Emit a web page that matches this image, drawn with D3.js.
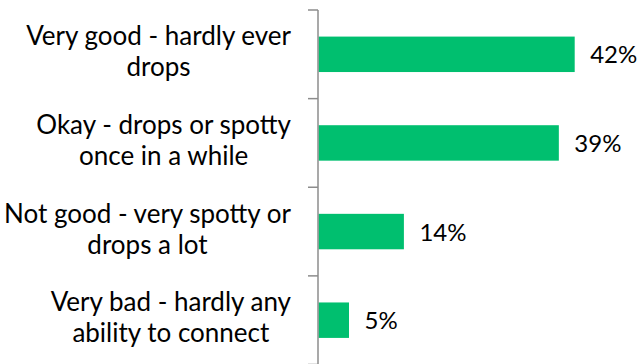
<!DOCTYPE html>
<html><head><meta charset="utf-8">
<script src="https://cdn.jsdelivr.net/npm/d3@7"></script>
<style>html,body{margin:0;padding:0;background:#fff;}svg{display:block;}</style>
</head><body>
<svg id="chart" width="640" height="364"></svg>
<script>
const categories = [
  ["Very good - hardly ever", "drops"],
  ["Okay - drops or spotty", "once in a while"],
  ["Not good - very spotty or", "drops a lot"],
  ["Very bad - hardly any", "ability to connect"]
];
const values = [42, 39.4, 14, 5];
const valueLabels = ["42%", "39%", "14%", "5%"];

const svg = d3.select("#chart");
const FONT = "Lato, 'Open Sans', sans-serif";
const FS = 26;
const FSV = 24;
const x0 = 318;
const x = d3.scaleLinear().domain([0, 50]).range([x0, x0 + 305]);
const y = d3.scaleBand().domain(d3.range(categories.length))
  .range([10, 364.5]).paddingInner(0.6).paddingOuter(0.3);

// bars
svg.selectAll("rect.bar").data(values).join("rect")
  .attr("class", "bar")
  .attr("x", x(0) + 0.5)
  .attr("y", (d, i) => y(i))
  .attr("width", d => x(d) - x(0))
  .attr("height", y.bandwidth())
  .attr("fill", "#00BF6F");

// axis line + ticks
const axisColor = "#8c8c8c";
svg.append("line").attr("x1", x0).attr("x2", x0).attr("y1", 10).attr("y2", 364.5)
  .attr("stroke", axisColor).attr("stroke-width", 1.5);
const step = y.step();
d3.range(categories.length + 1).forEach(i => {
  const ty = 10 + i * step;
  svg.append("line").attr("x1", 308).attr("x2", x0).attr("y1", ty).attr("y2", ty)
    .attr("stroke", axisColor).attr("stroke-width", 1.5);
});

// value labels
svg.selectAll("text.val").data(values).join("text")
  .attr("class", "val")
  .attr("x", d => x(d) + 16)
  .attr("y", (d, i) => y(i) + y.bandwidth() / 2 + 9)
  .attr("font-family", FONT).attr("font-size", FSV).attr("fill", "#000")
  .text((d, i) => valueLabels[i]);

// category labels (block right-aligned at 290, lines centered within block)
categories.forEach((lines, i) => {
  const cy = y(i) + y.bandwidth() / 2;
  const g = svg.append("g");
  const texts = lines.map((t, j) => g.append("text")
    .attr("y", cy - 9 + j * 31)
    .attr("font-family", FONT).attr("font-size", FS).attr("fill", "#000")
    .attr("text-anchor", "middle").text(t));
  const maxW = d3.max(texts, t => t.node().getComputedTextLength());
  texts.forEach(t => t.attr("x", 291 - maxW / 2));
});
</script>
</body></html>
